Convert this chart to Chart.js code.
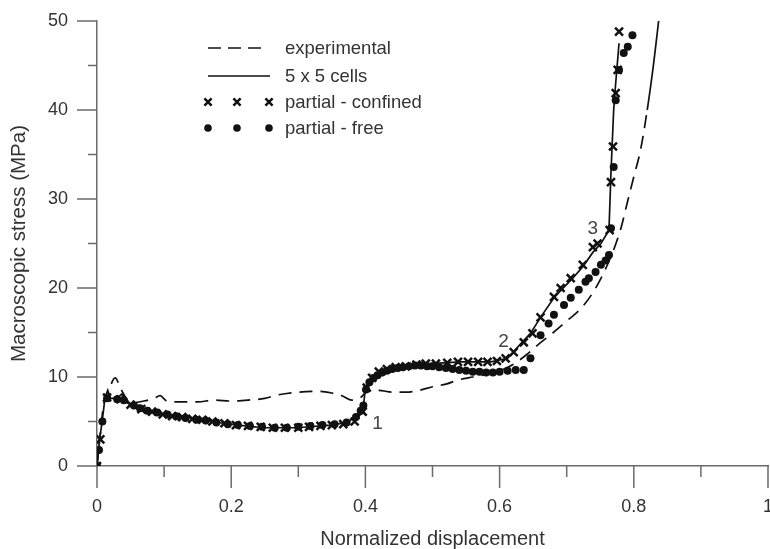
<!DOCTYPE html>
<html>
<head>
<meta charset="utf-8">
<script src="https://cdn.jsdelivr.net/npm/chart.js@4.4.1/dist/chart.umd.min.js"></script>
<style>
html,body{margin:0;padding:0;background:#fff;}
#wrap{width:770px;height:549px;position:relative;}
</style>
</head>
<body>
<div id="wrap"><canvas id="c" width="770" height="549"></canvas></div>
<script>
// ---- data ----
const expX = [0,0.004,0.01,0.018,0.027,0.036,0.05,0.07,0.085,0.094,0.104,0.125,0.15,0.175,0.2,0.225,0.25,0.27,0.3,0.33,0.35,0.365,0.38,0.393,0.405,0.42,0.44,0.46,0.48,0.5,0.52,0.54,0.56,0.58,0.6,0.62,0.64,0.66,0.68,0.7,0.72,0.74,0.76,0.78,0.79,0.8,0.81,0.82,0.83,0.837];
const expY = [0,3,7,8.6,9.9,8.6,7.1,7.3,7.6,7.9,7.3,7.2,7.2,7.4,7.3,7.4,7.6,8.0,8.3,8.4,8.2,7.9,7.4,7.7,8.5,8.5,8.3,8.3,8.5,8.9,9.2,9.7,10.0,10.3,10.7,11.4,12.5,13.8,15.0,16.3,17.6,19.6,22.5,26.5,29.5,32.5,35.5,40,45.5,50];

const simX = [0,0.004,0.008,0.012,0.016,0.02,0.03,0.037,0.042,0.05,0.07,0.094,0.119,0.139,0.164,0.188,0.21,0.248,0.298,0.348,0.373,0.388,0.397,0.40,0.407,0.422,0.452,0.497,0.542,0.587,0.612,0.631,0.646,0.661,0.681,0.696,0.709,0.724,0.739,0.751,0.763,0.766,0.77,0.773,0.778];
const simY = [0,3,5.2,7.7,8.5,7.6,7.6,8.1,7.2,6.9,6.3,5.9,5.6,5.4,5.1,4.8,4.6,4.3,4.3,4.6,4.9,5.7,6.6,8.8,9.7,10.6,11.1,11.5,11.7,11.7,12.1,13.7,14.9,16.7,18.9,20.1,21.1,22.4,24.0,25.0,26.5,33,40,43,47.5];

const confX = [0,0.005,0.015,0.035,0.05,0.066,0.082,0.098,0.112,0.127,0.142,0.157,0.172,0.19,0.207,0.225,0.244,0.262,0.28,0.3,0.316,0.333,0.35,0.367,0.384,0.396,0.402,0.41,0.42,0.432,0.445,0.46,0.476,0.49,0.505,0.522,0.538,0.553,0.568,0.582,0.596,0.609,0.621,0.636,0.649,0.661,0.681,0.691,0.706,0.724,0.739,0.746,0.764,0.766,0.769,0.773,0.776,0.778];
const confY = [0,3.0,7.7,7.5,6.9,6.4,6.1,5.8,5.6,5.5,5.3,5.2,5.0,4.8,4.6,4.5,4.4,4.3,4.3,4.3,4.4,4.5,4.6,4.7,5.0,6.1,8.8,9.9,10.6,10.9,11.1,11.2,11.4,11.5,11.5,11.6,11.7,11.7,11.7,11.7,11.8,12.1,12.8,13.9,14.9,16.7,19.0,20.0,21.1,22.6,24.6,25.0,26.5,31.9,35.9,41.9,44.5,48.8];

const freeX = [0,0.003,0.008,0.015,0.03,0.04,0.055,0.064,0.075,0.09,0.105,0.118,0.132,0.148,0.162,0.178,0.195,0.21,0.228,0.246,0.265,0.283,0.3,0.318,0.336,0.354,0.372,0.386,0.393,0.397,0.401,0.406,0.412,0.418,0.425,0.432,0.44,0.448,0.456,0.465,0.474,0.483,0.492,0.5,0.51,0.52,0.53,0.54,0.55,0.56,0.57,0.58,0.59,0.6,0.612,0.624,0.636,0.646,0.661,0.673,0.681,0.696,0.706,0.718,0.728,0.733,0.743,0.751,0.758,0.763,0.766,0.770,0.773,0.778,0.785,0.791,0.798];
const freeY = [0,1.8,5.0,7.6,7.5,7.4,6.8,6.5,6.2,6.0,5.8,5.6,5.4,5.2,5.1,4.9,4.7,4.6,4.5,4.4,4.3,4.3,4.4,4.5,4.6,4.7,4.9,5.5,6.2,6.8,8.6,9.4,9.9,10.2,10.5,10.7,10.9,11.0,11.1,11.2,11.3,11.3,11.2,11.2,11.1,11.0,10.9,10.8,10.7,10.6,10.6,10.5,10.5,10.6,10.7,10.8,10.8,12.1,14.7,16.0,17.0,18.1,18.9,19.8,20.7,21.1,21.8,22.6,23.1,23.7,26.7,33.6,41.1,44.5,46.4,47.1,48.4];

const seriesNames = ['experimental','5 x 5 cells','partial - confined','partial - free'];
const xTickLabels = {0:'0',2:'0.2',4:'0.4',6:'0.6',8:'0.8',10:'1'};
const yTickLabels = {0:'0',10:'10',20:'20',30:'30',40:'40',50:'50'};
const pointLabels = [{t:'1',x:0.418,y:4.7},{t:'2',x:0.606,y:14.0},{t:'3',x:0.739,y:26.6}];
// ---------------------------------------

const zip = (xs, ys) => xs.map((x, i) => ({x: x, y: ys[i]}));
const FONT = "'Liberation Sans', Arial, sans-serif";
const TXT = '#333';
const AX = '#6a6a6a';
const INK = '#111';

const tickMarks = {
  id: 'tickMarks',
  afterDraw(chart) {
    const ctx = chart.ctx;
    const xs = chart.scales.x, ys = chart.scales.y;
    ctx.save();
    ctx.strokeStyle = AX;
    ctx.lineWidth = 1.5;
    xs.ticks.forEach(t => {
      const k = Math.round(t.value * 10);
      const len = (k % 2 === 0) ? 22 : 11;
      const px = xs.getPixelForValue(t.value);
      ctx.beginPath(); ctx.moveTo(px, xs.top); ctx.lineTo(px, xs.top + len); ctx.stroke();
    });
    ys.ticks.forEach(t => {
      const k = Math.round(t.value);
      const len = (k % 10 === 0) ? 20 : 9;
      const py = ys.getPixelForValue(t.value);
      ctx.beginPath(); ctx.moveTo(ys.right, py); ctx.lineTo(ys.right - len, py); ctx.stroke();
    });
    ctx.restore();
  }
};

const annot = {
  id: 'annot',
  afterDatasetsDraw(chart) {
    const ctx = chart.ctx;
    const xs = chart.scales.x, ys = chart.scales.y;
    ctx.save();
    ctx.fillStyle = '#444';
    ctx.font = '19px ' + FONT;
    ctx.textAlign = 'center';
    ctx.textBaseline = 'middle';
    pointLabels.forEach(p => ctx.fillText(p.t, xs.getPixelForValue(p.x), ys.getPixelForValue(p.y)));
    ctx.restore();
  }
};

function drawCross(ctx, x, y, s) {
  ctx.beginPath();
  ctx.moveTo(x - s, y - s); ctx.lineTo(x + s, y + s);
  ctx.moveTo(x - s, y + s); ctx.lineTo(x + s, y - s);
  ctx.stroke();
}

const customLegend = {
  id: 'customLegend',
  afterDraw(chart) {
    const ctx = chart.ctx;
    const x0 = 208, x1 = 237, x2 = 269, tx = 285;
    const rows = [48, 76, 102, 128];
    ctx.save();
    ctx.strokeStyle = INK; ctx.fillStyle = INK;
    ctx.lineWidth = 1.7;
    ctx.setLineDash([13, 7]);
    ctx.beginPath(); ctx.moveTo(x0, rows[0]); ctx.lineTo(262, rows[0]); ctx.stroke();
    ctx.setLineDash([]);
    ctx.beginPath(); ctx.moveTo(x0, rows[1]); ctx.lineTo(270, rows[1]); ctx.stroke();
    ctx.lineWidth = 2.5;
    [x0, x1, x2].forEach(x => drawCross(ctx, x, rows[2], 3.6));
    [x0, x1, x2].forEach(x => { ctx.beginPath(); ctx.arc(x, rows[3], 3.8, 0, Math.PI * 2); ctx.fill(); });
    ctx.fillStyle = TXT;
    ctx.font = '18.5px ' + FONT;
    ctx.textAlign = 'left';
    ctx.textBaseline = 'middle';
    seriesNames.forEach((n, i) => ctx.fillText(n, tx, rows[i] + 1));
    ctx.restore();
  }
};

new Chart(document.getElementById('c'), {
  type: 'scatter',
  data: {
    datasets: [
      {
        label: seriesNames[3], data: zip(freeX, freeY), showLine: false,
        pointStyle: 'circle', pointRadius: 4, pointBackgroundColor: INK, pointBorderColor: INK,
        pointBorderWidth: 0, order: 1
      },
      {
        label: seriesNames[2], data: zip(confX, confY), showLine: false,
        pointStyle: 'crossRot', pointRadius: 5.6, pointBorderColor: INK, pointBorderWidth: 2.5, order: 2
      },
      {
        label: seriesNames[1], data: zip(simX, simY), showLine: true,
        borderColor: INK, borderWidth: 1.7, pointRadius: 0, tension: 0, order: 3
      },
      {
        label: seriesNames[0], data: zip(expX, expY), showLine: true,
        borderColor: INK, borderWidth: 1.7, pointRadius: 0, borderDash: [13, 8],
        cubicInterpolationMode: 'monotone',
        segment: { borderDash: c => (c.p0.parsed.y >= 37 ? [] : [13, 8]) },
        order: 4
      }
    ]
  },
  options: {
    responsive: false,
    animation: false,
    devicePixelRatio: 1,
    layout: { autoPadding: false, padding: { left: 0, top: 21, right: 2, bottom: 0 } },
    plugins: { legend: { display: false }, tooltip: { enabled: false } },
    scales: {
      x: {
        type: 'linear', min: 0, max: 1,
        grid: { display: true, drawOnChartArea: false, drawTicks: false },
        border: { display: true, color: AX, width: 1.5 },
        ticks: {
          stepSize: 0.1, padding: 30, color: TXT, font: { family: FONT, size: 18 },
          maxRotation: 0, autoSkip: false,
          callback: v => { const k = Math.round(v * 10); return (k in xTickLabels) ? xTickLabels[k] : ''; }
        },
        title: { display: true, text: 'Normalized displacement', color: TXT,
          font: { family: FONT, size: 20, lineHeight: 1 }, padding: { top: 0, bottom: 0 } },
        afterFit: s => { s.height = 83; s.paddingLeft = 0; s.paddingRight = 0; }
      },
      y: {
        type: 'linear', min: 0, max: 50,
        grid: { display: true, drawOnChartArea: false, drawTicks: false },
        border: { display: true, color: AX, width: 1.5 },
        ticks: {
          stepSize: 5, padding: 29, color: TXT, font: { family: FONT, size: 18 }, autoSkip: false,
          callback: v => { const k = Math.round(v); return (k in yTickLabels) ? yTickLabels[k] : ''; }
        },
        title: { display: true, text: 'Macroscopic stress (MPa)', color: TXT,
          font: { family: FONT, size: 20.5, lineHeight: 1 }, padding: { top: 9, bottom: 0 } },
        afterFit: s => { s.width = 97; s.paddingTop = 0; s.paddingBottom = 0; }
      }
    }
  },
  plugins: [tickMarks, annot, customLegend]
});
</script>
</body>
</html>
